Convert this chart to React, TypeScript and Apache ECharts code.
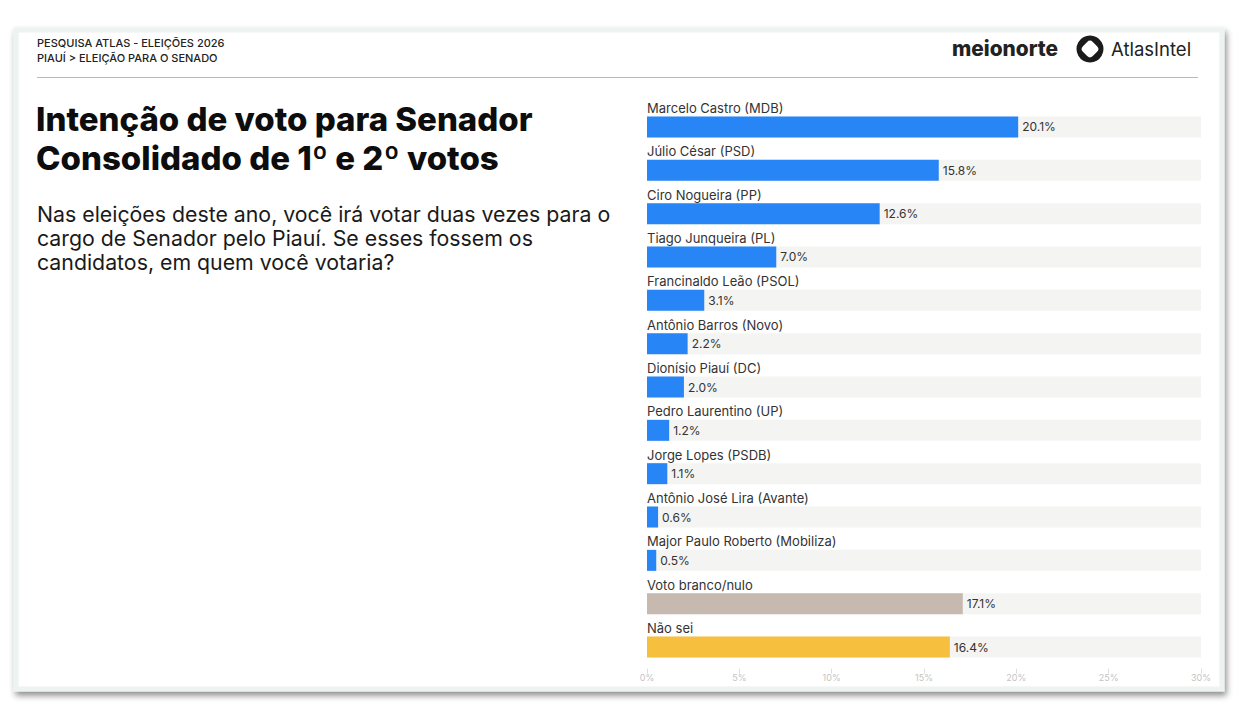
import React, { useEffect, useRef } from "react";
import * as echarts from "echarts";

const categories = [
  "Marcelo Castro (MDB)",
  "Júlio César (PSD)",
  "Ciro Nogueira (PP)",
  "Tiago Junqueira (PL)",
  "Francinaldo Leão (PSOL)",
  "Antônio Barros (Novo)",
  "Dionísio Piauí (DC)",
  "Pedro Laurentino (UP)",
  "Jorge Lopes (PSDB)",
  "Antônio José Lira (Avante)",
  "Major Paulo Roberto (Mobiliza)",
  "Voto branco/nulo",
  "Não sei",
];
const values = [20.1, 15.8, 12.6, 7.0, 3.1, 2.2, 2.0, 1.2, 1.1, 0.6, 0.5, 17.1, 16.4];
const axisMin = 0;
const axisMax = 30;
const axisInterval = 5;

const headerLines = ["PESQUISA ATLAS - ELEIÇÕES 2026", "PIAUÍ > ELEIÇÃO PARA O SENADO"];
const titleLines = ["Intenção de voto para Senador", "Consolidado de 1º e 2º votos"];
const subtitleLines = [
  "Nas eleições deste ano, você irá votar duas vezes para o",
  "cargo de Senador pelo Piauí. Se esses fossem os",
  "candidatos, em quem você votaria?",
];

const BLUE = "#2785f6";
const specialColors: Record<string, string> = {
  "Voto branco/nulo": "#c5b9b0",
  "Não sei": "#f6bf3e",
};

const FONT = "Inter, 'Noto Sans', sans-serif";

export default function App() {
  const ref = useRef<HTMLDivElement>(null);
  useEffect(() => {
    if (!ref.current) return;
    const chart = echarts.init(ref.current, null, { renderer: "svg" });
    const graphic: any[] = [
      {
        type: "rect",
        z: -10,
        shape: { x: 16, y: 30, width: 1206, height: 659 },
        style: {
          fill: "#ffffff",
          stroke: "#edf2f2",
          lineWidth: 5,
          shadowBlur: 6,
          shadowOffsetX: 2,
          shadowOffsetY: 4,
          shadowColor: "rgba(0,0,0,0.45)",
        },
      },
      {
        type: "line",
        shape: { x1: 37, y1: 77.5, x2: 1198, y2: 77.5 },
        style: { stroke: "#b9b9b9", lineWidth: 1 },
      },
      ...headerLines.map((t, i) => ({
        type: "text",
        x: 37,
        y: 43 + i * 15,
        style: { text: t, font: `500 11px ${FONT}`, fill: "#222", verticalAlign: "middle", align: "left" },
      })),
      ...titleLines.map((t, i) => ({
        type: "text",
        x: 36,
        y: 119 + i * 39,
        style: { text: t, font: `800 33px ${FONT}`, fill: "#0d0d0d", verticalAlign: "middle", align: "left" },
      })),
      ...subtitleLines.map((t, i) => ({
        type: "text",
        x: 37,
        y: 214 + i * 24,
        style: { text: t, font: `400 21.3px ${FONT}`, fill: "#1a1a1a", verticalAlign: "middle", align: "left" },
      })),
      {
        type: "text",
        x: 952,
        y: 48,
        style: { text: "meionorte", font: `800 20.8px ${FONT}`, fill: "#222", verticalAlign: "middle", align: "left" },
      },
      {
        type: "circle",
        shape: { cx: 1090, cy: 49, r: 13.5 },
        style: { fill: "#1b1b1b" },
      },
      {
        type: "rect",
        x: 1090,
        y: 49,
        rotation: Math.PI / 4,
        shape: { x: -7, y: -7, width: 14, height: 14, r: 4 },
        style: { fill: "#ffffff" },
      },
      {
        type: "text",
        x: 1111,
        y: 49,
        style: { text: "AtlasIntel", font: `400 18.5px ${FONT}`, fill: "#222", verticalAlign: "middle", align: "left" },
      },
    ];

    const option: any = {
      animation: false,
      backgroundColor: "#ffffff",
      graphic,
      grid: { left: 647, right: 57, top: 105.3, bottom: 55.3, containLabel: false },
      xAxis: {
        type: "value",
        min: axisMin,
        max: axisMax,
        interval: axisInterval,
        splitLine: { show: false },
        axisLine: { show: false },
        axisTick: { show: true, length: 5, lineStyle: { color: "#dedede" } },
        axisLabel: { formatter: "{value}%", color: "#c4c4c4", fontSize: 9, fontFamily: FONT, margin: 4 },
      },
      yAxis: {
        type: "category",
        inverse: true,
        data: categories,
        axisLine: { show: false },
        axisTick: { show: false },
        axisLabel: { show: false },
      },
      series: [
        {
          type: "bar",
          barWidth: 21,
          barGap: "-100%",
          showBackground: true,
          backgroundStyle: { color: "#f4f4f2" },
          data: values.map((v, i) => ({
            value: v,
            itemStyle: { color: specialColors[categories[i]] || BLUE },
          })),
          label: {
            show: true,
            position: "right",
            distance: 4,
            formatter: (p: any) => `${Number(p.value).toFixed(1)}%`,
            color: "#333",
            fontSize: 12,
            fontFamily: FONT,
          },
        },
        {
          type: "bar",
          barWidth: 21,
          barGap: "-100%",
          silent: true,
          data: values,
          itemStyle: { color: "rgba(0,0,0,0)" },
          label: {
            show: true,
            position: [0, -15],
            formatter: "{b}",
            color: "#333",
            fontSize: 13,
            fontFamily: FONT,
          },
        },
      ],
    };
    chart.setOption(option);
    return () => chart.dispose();
  }, []);
  return <div ref={ref} style={{ position: "absolute", left: 0, top: 0, width: 1258, height: 724 }} />;
}
